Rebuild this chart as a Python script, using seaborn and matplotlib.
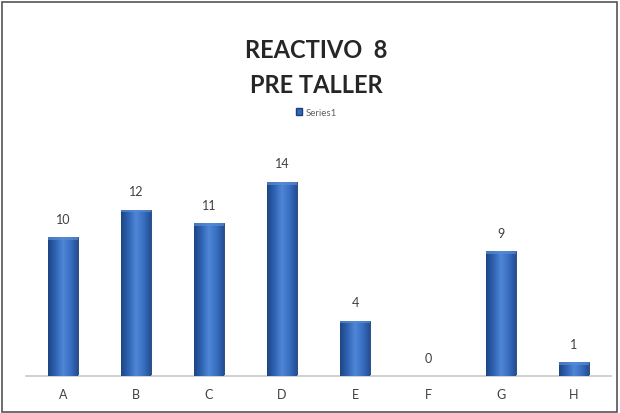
import numpy as np
import pandas as pd
import matplotlib
matplotlib.use("Agg")
import matplotlib.pyplot as plt
import seaborn as sns
from matplotlib.colors import LinearSegmentedColormap
from matplotlib.patches import Rectangle, Patch

# ============================================================
# Data
# ============================================================

categories = ["A", "B", "C", "D", "E", "F", "G", "H"]
values = [10, 12, 11, 14, 4, 0, 9, 1]
series_name = "Series1"

df = pd.DataFrame({"Opcion": categories, "Respuestas": values})

# ============================================================
# Figure
# ============================================================

sns.set_style("white")
plt.rcParams["font.family"] = ["Lato", "DejaVu Sans"]

fig = plt.figure(figsize=(6.2, 4.14), dpi=100)
ax = fig.add_axes([0.0427, 0.0894, 0.942, 0.536])

sns.barplot(x="Opcion", y="Respuestas", data=df, color="#3468b8",
            width=0.41, ax=ax)

# cylinder-like shading on each bar
cmap = LinearSegmentedColormap.from_list(
    "cyl", ["#1d4584", "#2f63b3", "#4f86d6", "#3a70c2", "#244f94"])
grad = np.linspace(0, 1, 64).reshape(1, -1)
for bar in ax.patches:
    x0, y0 = bar.get_x(), bar.get_y()
    w, h = bar.get_width(), bar.get_height()
    if h <= 0:
        continue
    im = ax.imshow(grad, cmap=cmap, aspect="auto", extent=[x0, x0 + w, y0, y0 + h], zorder=3)
    im.set_clip_path(bar)
    bar.set_edgecolor("#1b3f78")
    bar.set_linewidth(0.6)
    # slightly lighter rim at the top of the bar
    ax.add_patch(Rectangle((x0, y0 + h - 0.2), w, 0.2, color="#5a8bd3", alpha=0.7, zorder=4, lw=0))

ax.set_xlim(-0.5, 7.5)
ax.set_ylim(0, 16)
ax.set_aspect("auto")

for i, v in enumerate(values):
    ax.text(i, v + 0.9, str(v), ha="center", va="bottom", fontsize=9, color="#404040")

ax.set_xlabel("")
ax.set_ylabel("")
ax.set_yticks([])
ax.tick_params(axis="x", length=0, labelsize=9, labelcolor="#404040", pad=9)
sns.despine(ax=ax, left=True, top=True, right=True)
ax.spines["bottom"].set_color("#c8c8c8")
ax.spines["bottom"].set_linewidth(1.2)

handle = Patch(facecolor="#3468b8", edgecolor="#1b3f78", label=series_name)
fig.legend(handles=[handle], loc="center", bbox_to_anchor=(0.51, 0.727),
           frameon=False, fontsize=7, handlelength=0.7, handleheight=0.7,
           handletextpad=0.3, labelcolor="#606060")

fig.text(0.51, 0.878, "REACTIVO  8", ha="center", va="center", fontsize=17,
         fontweight="bold", color="#262626")
fig.text(0.51, 0.793, "PRE TALLER", ha="center", va="center", fontsize=17,
         fontweight="bold", color="#262626")

# outer chart border
fig.patches.append(Rectangle((0.003, 0.003), 0.992, 0.99, transform=fig.transFigure,
                             fill=False, edgecolor="#555555", lw=1.2))

fig.savefig("out.png", dpi=100)
